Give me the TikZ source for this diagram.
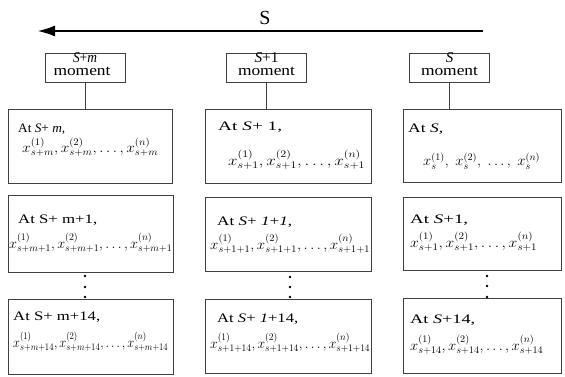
\documentclass[tikz,border=0pt]{standalone}
\usepackage{graphicx}
\usepackage{fontspec}
\setmainfont{Liberation Serif}
\usetikzlibrary{arrows.meta}
\tikzset{
  topbox/.style={draw=black!75, line width=0.6pt, minimum width=80pt, minimum height=29pt, inner sep=0pt},
  toptxt/.style={anchor=base, inner sep=0pt, font=\fontsize{15}{15}\selectfont},
  cbox/.style={draw=black!75, line width=0.6pt, inner sep=0pt, anchor=north west},
  lbl/.style={anchor=base west, inner sep=0pt, font=\fontsize{13}{14}\selectfont},
  frm/.style={anchor=base west, inner sep=0pt, font=\fontsize{14}{16}\selectfont},
  dotn/.style={circle, fill=black, inner sep=0pt, minimum size=2.6pt},
  conn/.style={draw=black!75, line width=0.6pt}
}
\newcommand{\xs}[2]{x^{(#1)}_{#2}}
\newcommand{\fit}[2]{\resizebox{#1pt}{\height}{#2}}
\begin{document}
\begin{tikzpicture}[x=1pt,y=-1pt]
\useasboundingbox (0,0) rectangle (565,377);
% arrow
\coordinate (aR) at (483,31);
\coordinate (aL) at (38,31);
\draw[line width=1.1pt, -{Latex[length=17pt,width=11pt]}] (aR) -- (aL);
\node[font=\fontsize{20}{20}\selectfont, inner sep=0pt] (S) at (265,18) {S};
% top boxes
\node[topbox] (t1) at (85,67.5) {};
\node[topbox] (t2) at (266.5,67.5) {};
\node[topbox] (t3) at (449.5,67.5) {};
\node[toptxt] (t1a) at (85,63) {\fit{24}{\textit{S}+\textit{m}}};
\node[toptxt] (t1b) at (82,76) {\fit{57}{moment}};
\node[toptxt] (t2a) at (266.5,63) {\fit{24}{\textit{S}+1}};
\node[toptxt] (t2b) at (266.5,76) {\fit{57}{moment}};
\node[toptxt] (t3a) at (449.5,63) {\textit{S}};
\node[toptxt] (t3b) at (449.5,76) {\fit{57}{moment}};
% content boxes
\node[cbox, minimum width=164pt, minimum height=74pt] (c11) at (8,109) {};
\node[cbox, minimum width=165pt, minimum height=77pt] (c12) at (8,195) {};
\node[cbox, minimum width=165pt, minimum height=75pt] (c13) at (8,299) {};
\node[cbox, minimum width=166pt, minimum height=74pt] (c21) at (205,109) {};
\node[cbox, minimum width=166pt, minimum height=74pt] (c22) at (205,197) {};
\node[cbox, minimum width=166pt, minimum height=74pt] (c23) at (205,299) {};
\node[cbox, minimum width=158pt, minimum height=73pt] (c31) at (403,109) {};
\node[cbox, minimum width=158pt, minimum height=73pt] (c32) at (403,197) {};
\node[cbox, minimum width=158pt, minimum height=75pt] (c33) at (403,298) {};
% connectors
\draw[conn] (t1.south) -- (t1.south |- c11.north);
\draw[conn] (t2.south) -- (t2.south |- c21.north);
\draw[conn] (t3.south) -- (t3.south |- c31.north);
% column 1 text
\node[lbl] (l11) at (18,133) {\fit{47}{At \textit{S}+ \textit{m},}};
\node[frm] (f11) at (22,153) {\fit{136}{$\xs{1}{s+m},\xs{2}{s+m},\ldots,\xs{n}{s+m}$}};
\node[lbl] (l12) at (18,223) {\fit{79}{At S+ m+1,}};
\node[frm] (f12) at (9,248) {\fit{163}{$\xs{1}{s+m+1},\xs{2}{s+m+1},\ldots,\xs{n}{s+m+1}$}};
\node[lbl] (l13) at (13,320) {\fit{87}{At S+ m+14,}};
\node[frm] (f13) at (13,347) {\fit{155}{$\xs{1}{s+m+14},\xs{2}{s+m+14},\ldots,\xs{n}{s+m+14}$}};
% column 2 text
\node[lbl] (l21) at (218,131) {\fit{64}{At \textit{S}+ 1,}};
\node[frm] (f21) at (228,165) {\fit{137}{$\xs{1}{s+1},\xs{2}{s+1},\ldots,\xs{n}{s+1}$}};
\node[lbl] (l22) at (217,225) {\fit{75}{At \textit{S}+ \textit{1}+\textit{1},}};
\node[frm] (f22) at (210,249) {\fit{160}{$\xs{1}{s+1+1},\xs{2}{s+1+1},\ldots,\xs{n}{s+1+1}$}};
\node[lbl] (l23) at (217,322) {\fit{81}{At \textit{S}+ \textit{1}+14,}};
\node[frm] (f23) at (210,348) {\fit{160}{$\xs{1}{s+1+14},\xs{2}{s+1+14},\ldots,\xs{n}{s+1+14}$}};
% column 3 text
\node[lbl] (l31) at (408,133) {\fit{35}{At \textit{S},}};
\node[frm] (f31) at (423,166) {\fit{117}{$\xs{1}{s},\;\xs{2}{s},\;\ldots,\;\xs{n}{s}$}};
\node[lbl] (l32) at (410,223) {\fit{58}{At \textit{S}+1,}};
\node[frm] (f32) at (410,247) {\fit{127}{$\xs{1}{s+1},\xs{2}{s+1},\ldots,\xs{n}{s+1}$}};
\node[lbl] (l33) at (410,323) {\fit{65}{At \textit{S}+14,}};
\node[frm] (f33) at (410,350) {\fit{133}{$\xs{1}{s+14},\xs{2}{s+14},\ldots,\xs{n}{s+14}$}};
% dots
\node[dotn] (d11) at (85,276) {};
\node[dotn] (d12) at (85,287) {};
\node[dotn] (d13) at (85,297) {};
\node[dotn] (d21) at (290,277) {};
\node[dotn] (d22) at (290,287) {};
\node[dotn] (d23) at (290,297) {};
\node[dotn] (d31) at (487,276) {};
\node[dotn] (d32) at (487,286) {};
\node[dotn] (d33) at (487,297) {};
\end{tikzpicture}
\end{document}
